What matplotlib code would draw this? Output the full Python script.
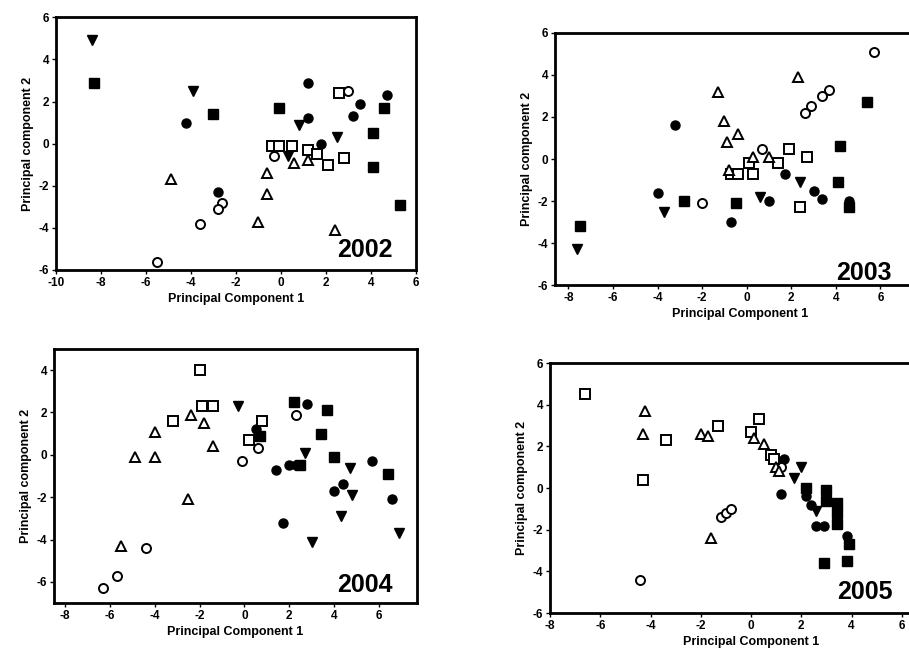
import matplotlib.pyplot as plt
import numpy as np

plt.rcParams['font.family'] = ['Liberation Sans', 'DejaVu Sans']
plt.rcParams['font.weight'] = 'bold'
plt.rcParams['axes.unicode_minus'] = False

# marker groups: fc = filled circle, fs = filled square, ft = filled down-triangle
#                oc = open circle, os = open square, ot = open triangle

# 2002
fc02 = [(1.2, 2.9), (4.7, 2.3), (3.5, 1.9), (1.2, 1.2), (3.2, 1.3), (1.8, 0.0), (-4.2, 1.0), (-2.8, -2.3)]
fs02 = [(-8.3, 2.9), (-3.0, 1.4), (-0.1, 1.7), (4.6, 1.7), (4.1, 0.5), (4.1, -1.1), (5.3, -2.9)]
ft02 = [(-8.4, 4.9), (-3.9, 2.5), (0.8, 0.9), (2.5, 0.3), (0.3, -0.6)]
oc02 = [(3.0, 2.5), (-0.3, -0.6), (-2.6, -2.8), (-2.8, -3.1), (-3.6, -3.8), (-5.5, -5.6)]
os02 = [(2.6, 2.4), (-0.4, -0.1), (-0.1, -0.1), (0.5, -0.1), (1.2, -0.3), (1.6, -0.5), (2.1, -1.0), (2.8, -0.7)]
ot02 = [(-4.9, -1.7), (0.6, -0.9), (1.2, -0.8), (-0.6, -1.4), (-0.6, -2.4), (-1.0, -3.7), (2.4, -4.1)]

# 2003
fc03 = [(-3.2, 1.6), (-4.0, -1.6), (1.7, -0.7), (3.0, -1.5), (3.4, -1.9), (1.0, -2.0), (-0.7, -3.0), (4.6, -2.0)]
fs03 = [(-7.5, -3.2), (-2.8, -2.0), (5.4, 2.7), (4.2, 0.6), (4.1, -1.1), (-0.5, -2.1), (4.6, -2.3)]
ft03 = [(-7.6, -4.3), (-3.7, -2.5), (2.4, -1.1), (0.6, -1.8)]
oc03 = [(5.7, 5.1), (3.7, 3.3), (3.4, 3.0), (2.9, 2.5), (2.6, 2.2), (0.7, 0.5), (-2.0, -2.1)]
os03 = [(1.9, 0.5), (2.7, 0.1), (0.1, -0.2), (1.4, -0.2), (-0.7, -0.7), (-0.4, -0.7), (0.3, -0.7), (2.4, -2.3)]
ot03 = [(2.3, 3.9), (-1.3, 3.2), (-1.0, 1.8), (-0.4, 1.2), (-0.9, 0.8), (0.3, 0.1), (1.0, 0.1), (-0.8, -0.5)]

# 2004
fc04 = [(2.8, 2.4), (0.5, 1.2), (5.7, -0.3), (1.4, -0.7), (2.0, -0.5), (2.3, -0.5), (4.4, -1.4),
        (4.0, -1.7), (6.6, -2.1), (1.7, -3.2)]
fs04 = [(2.2, 2.5), (3.7, 2.1), (0.7, 0.9), (3.4, 1.0), (4.0, -0.1), (6.4, -0.9), (2.5, -0.5)]
ft04 = [(-0.3, 2.3), (2.7, 0.1), (4.7, -0.6), (4.8, -1.9), (4.3, -2.9), (6.9, -3.7), (3.0, -4.1)]
oc04 = [(2.3, 1.9), (0.6, 0.3), (-0.1, -0.3), (-4.4, -4.4), (-5.7, -5.7), (-6.3, -6.3)]
os04 = [(-2.0, 4.0), (-1.9, 2.3), (-1.4, 2.3), (-3.2, 1.6), (0.8, 1.6), (0.2, 0.7)]
ot04 = [(-2.4, 1.9), (-1.8, 1.5), (-4.0, 1.1), (-1.4, 0.4), (-4.9, -0.1), (-4.0, -0.1), (-2.5, -2.1),
        (-5.5, -4.3)]

# 2005
fc05 = [(1.3, 1.4), (1.2, -0.3), (2.2, -0.4), (2.4, -0.8), (2.6, -1.8), (2.9, -1.8), (3.8, -2.3)]
fs05 = [(2.2, 0.0), (3.0, -0.1), (3.4, -0.7), (3.4, -1.2), (3.4, -1.7), (3.9, -2.7), (2.9, -3.6),
        (3.8, -3.5), (3.0, -0.6)]
ft05 = [(2.0, 1.0), (1.7, 0.5), (2.6, -1.1)]
oc05 = [(1.2, 1.0), (-1.2, -1.4), (-1.0, -1.2), (-0.8, -1.0), (-4.4, -4.4)]
os05 = [(-6.6, 4.5), (-3.4, 2.3), (-4.3, 0.4), (-1.3, 3.0), (0.3, 3.3), (0.0, 2.7), (0.8, 1.6), (0.9, 1.4)]
ot05 = [(-4.2, 3.7), (-4.3, 2.6), (-2.0, 2.6), (-1.7, 2.5), (0.1, 2.4), (0.5, 2.1), (1.0, 1.0),
        (1.1, 0.8), (-1.6, -2.4)]

years = ['2002', '2003', '2004', '2005']
groups = [
    [fc02, fs02, ft02, oc02, os02, ot02],
    [fc03, fs03, ft03, oc03, os03, ot03],
    [fc04, fs04, ft04, oc04, os04, ot04],
    [fc05, fs05, ft05, oc05, os05, ot05],
]
xlims = [(-10, 6), (-8.6, 8), (-8.5, 7.7), (-8, 8)]
ylims = [(-6, 6), (-6, 6), (-7, 5), (-6, 6)]
xticks = [np.arange(-10, 7, 2), np.arange(-8, 7, 2), np.arange(-8, 7, 2), np.arange(-8, 7, 2)]
yticks = [np.arange(-6, 7, 2), np.arange(-6, 7, 2), np.arange(-6, 5, 2), np.arange(-6, 7, 2)]
# axes boxes [left, bottom, width, height] in figure fraction
boxes = [
    [0.0616, 0.594, 0.396, 0.380],
    [0.6106, 0.5714, 0.407, 0.379],
    [0.0594, 0.0932, 0.3993, 0.382],
    [0.605, 0.078, 0.4425, 0.376],
]
year_pos = [(0.936, 0.08), (0.91, 0.048), (0.934, 0.071), (0.852, 0.084)]

styles = [
    dict(marker='o', color='black', mfc='black', ms=6.5),
    dict(marker='s', color='black', mfc='black', ms=6.5),
    dict(marker='v', color='black', mfc='black', ms=7.5),
    dict(marker='o', color='black', mfc='white', ms=6.5, mew=1.4),
    dict(marker='s', color='black', mfc='white', ms=6.5, mew=1.4),
    dict(marker='^', color='black', mfc='white', ms=7.5, mew=1.4),
]

fig = plt.figure(figsize=(9.09, 6.65), dpi=100)
for i in range(4):
    ax = fig.add_axes(boxes[i])
    for pts, st in zip(groups[i], styles):
        pts = np.array(pts)
        ax.plot(pts[:, 0], pts[:, 1], ls='none', **st)
    ax.set_xlim(xlims[i])
    ax.set_ylim(ylims[i])
    ax.set_xticks(xticks[i])
    ax.set_yticks(yticks[i])
    ax.tick_params(direction='out', length=3, width=1, labelsize=8.5, pad=2)
    for lab in ax.get_xticklabels() + ax.get_yticklabels():
        lab.set_fontweight('bold')
    for sp in ax.spines.values():
        sp.set_linewidth(2)
    ax.set_xlabel('Principal Component 1', fontsize=9, fontweight='bold', labelpad=3)
    ax.set_ylabel('Principal component 2', fontsize=9, fontweight='bold', labelpad=3)
    ax.text(year_pos[i][0], year_pos[i][1], years[i], transform=ax.transAxes,
            ha='right', va='center', fontsize=18, fontweight='bold')

fig.savefig('out.png', dpi=100)
